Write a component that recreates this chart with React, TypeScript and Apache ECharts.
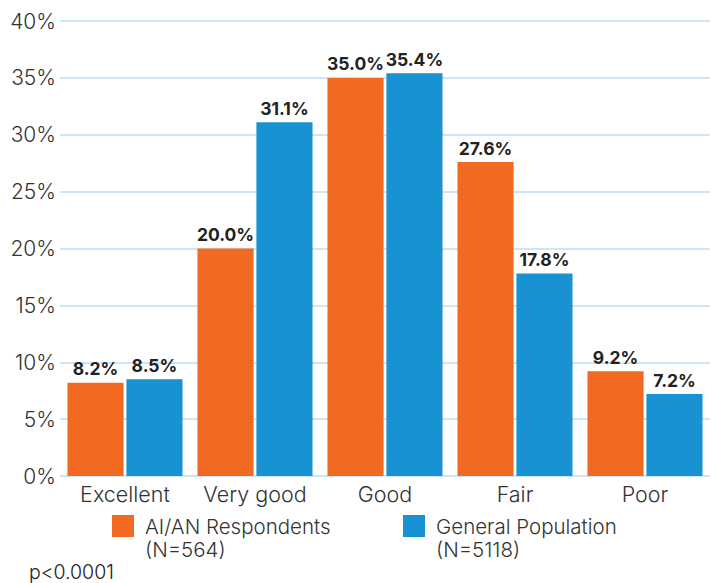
import React, { useEffect, useRef } from "react";
import * as echarts from "echarts";

const categories = ["Excellent", "Very good", "Good", "Fair", "Poor"];
const aianValues = [8.2, 20.0, 35.0, 27.6, 9.2];
const generalValues = [8.5, 31.1, 35.4, 17.8, 7.2];
const seriesNames = ["AI/AN Respondents", "General Population"];
const seriesSizes = ["(N=564)", "(N=5118)"];
const yTicks = [0, 5, 10, 15, 20, 25, 30, 35, 40];
const note = "p<0.0001";

const ORANGE = "#F26A22";
const BLUE = "#1892D2";
const FONT = "Inter";

export default function App() {
  const ref = useRef<HTMLDivElement>(null);
  useEffect(() => {
    if (!ref.current) return;
    const chart = echarts.init(ref.current, null, { renderer: "svg" });
    const label = {
      show: true,
      position: "top",
      distance: 5,
      fontFamily: FONT,
      fontWeight: "bold",
      fontSize: 17.5,
      color: "#222",
      formatter: (p: any) => p.value.toFixed(1) + "%",
    };
    const legendX = [112, 403];
    const colors = [ORANGE, BLUE];
    const textStyle = {
      fontFamily: FONT,
      fontWeight: 300,
      fontSize: 20.5,
      lineHeight: 20.5,
      fill: "#333",
      verticalAlign: "middle",
    };
    const legendGraphics = seriesNames.map((name, i) => ({
      type: "group",
      left: legendX[i],
      top: 515,
      children: [
        { type: "rect", shape: { x: 0, y: 0, width: 22, height: 22 }, style: { fill: colors[i] } },
        { type: "text", x: 33, y: 11, style: { ...textStyle, text: name } },
        { type: "text", x: 33, y: 34, style: { ...textStyle, text: seriesSizes[i] } },
      ],
    }));
    chart.setOption({
      animation: false,
      title: {
        text: note,
        left: 29,
        top: 562,
        padding: 0,
        textStyle: { fontFamily: FONT, fontWeight: 300, fontSize: 19.5, lineHeight: 20, color: "#222" },
      },
      graphic: legendGraphics,
      grid: { left: 60, right: 1, top: 21, bottom: 107, containLabel: false },
      xAxis: {
        type: "category",
        data: categories,
        axisLine: { show: false },
        axisTick: { show: false },
        axisLabel: {
          interval: 0,
          fontFamily: FONT,
          fontWeight: 300,
          fontSize: 21.5,
          color: "#333",
          margin: 7,
        },
      },
      yAxis: {
        type: "value",
        min: yTicks[0],
        max: yTicks[yTicks.length - 1],
        interval: 5,
        axisLine: { show: false },
        axisTick: { show: false },
        splitLine: { lineStyle: { color: "#BCDCF0", width: 1.5 } },
        axisLabel: {
          fontFamily: FONT,
          fontWeight: 300,
          fontSize: 21,
          color: "#333",
          margin: 4,
          formatter: (v: number) => v + "%",
        },
      },
      series: [
        {
          name: seriesNames[0],
          type: "bar",
          data: aianValues,
          itemStyle: { color: ORANGE },
          barGap: "5%",
          barCategoryGap: "11.5%",
          label,
        },
        {
          name: seriesNames[1],
          type: "bar",
          data: generalValues,
          itemStyle: { color: BLUE },
          label,
        },
      ],
    });
    return () => chart.dispose();
  }, []);
  return (
    <div
      ref={ref}
      style={{ position: "fixed", left: 0, top: 0, width: 711, height: 583, background: "#fff" }}
    />
  );
}
